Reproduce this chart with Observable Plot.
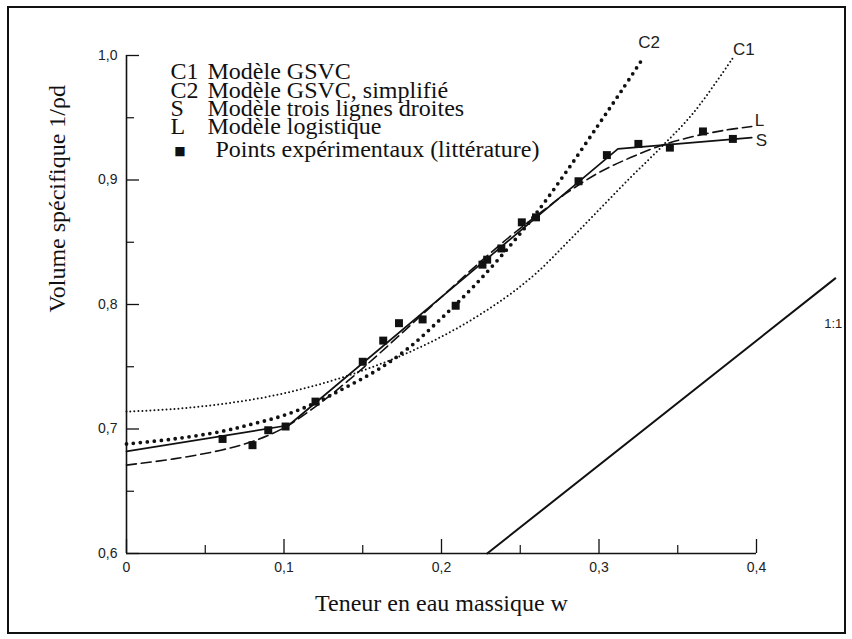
<!DOCTYPE html>
<html><head><meta charset="utf-8">
<script src="https://cdn.jsdelivr.net/npm/d3@7"></script>
<script src="https://cdn.jsdelivr.net/npm/@observablehq/plot@0.6"></script>
<style>
html,body{margin:0;padding:0;background:#fff;}
#wrap{position:relative;width:852px;height:639px;overflow:hidden;}
#border{position:absolute;left:7px;top:6px;width:839px;height:628px;border:2px solid #111;box-sizing:border-box;}
#chart{position:absolute;left:0;top:0;}
</style></head><body>
<div id="wrap"><div id="border"></div><div id="chart"></div></div>
<script>
// ---- tick definitions ----
const xTicks = [0, 0.1, 0.2, 0.3, 0.4];
const xTickLabels = ["0", "0,1", "0,2", "0,3", "0,4"];
const xMinor = [0.05, 0.15, 0.25, 0.35];
const yTicks = [0.6, 0.7, 0.8, 0.9, 1.0];
const yTickLabels = ["0,6", "0,7", "0,8", "0,9", "1,0"];
const yMinor = [0.65, 0.75, 0.85, 0.95];

// ---- experimental points (littérature) ----
const expW = [0.061, 0.080, 0.090, 0.101, 0.120, 0.150, 0.163, 0.173, 0.188, 0.209, 0.226, 0.229, 0.238, 0.251, 0.260, 0.287, 0.305, 0.325, 0.345, 0.366, 0.385];
const expV = [0.692, 0.687, 0.699, 0.702, 0.722, 0.754, 0.771, 0.785, 0.788, 0.799, 0.832, 0.836, 0.845, 0.866, 0.870, 0.899, 0.920, 0.929, 0.926, 0.939, 0.933];

// ---- S : three straight lines ----
const sW = [0, 0.103, 0.312, 0.397];
const sV = [0.682, 0.703, 0.925, 0.934];

// ---- L : logistic model ----
const lW = [0, 0.03, 0.06, 0.08, 0.10, 0.12, 0.14, 0.16, 0.18, 0.20, 0.22, 0.24, 0.26, 0.28, 0.30, 0.32, 0.34, 0.36, 0.38, 0.397];
const lV = [0.671, 0.676, 0.683, 0.690, 0.701, 0.718, 0.738, 0.760, 0.783, 0.806, 0.829, 0.851, 0.871, 0.890, 0.906, 0.918, 0.928, 0.935, 0.940, 0.943];

// ---- C1 : GSVC model ----
const c1W = [0, 0.03, 0.06, 0.09, 0.12, 0.15, 0.18, 0.21, 0.24, 0.26, 0.28, 0.30, 0.32, 0.34, 0.36, 0.385];
const c1V = [0.714, 0.716, 0.720, 0.726, 0.735, 0.747, 0.762, 0.781, 0.805, 0.825, 0.850, 0.876, 0.902, 0.927, 0.954, 0.998];

// ---- C2 : GSVC simplified ----
const c2W = [0, 0.03, 0.06, 0.08, 0.10, 0.12, 0.14, 0.16, 0.18, 0.20, 0.22, 0.24, 0.26, 0.28, 0.30, 0.315, 0.328];
const c2V = [0.688, 0.692, 0.698, 0.704, 0.711, 0.721, 0.734, 0.748, 0.766, 0.789, 0.814, 0.842, 0.873, 0.908, 0.945, 0.973, 0.998];

// ---- 1:1 line ----
const oneW = [0.229, 0.450];
const oneV = [0.600, 0.821];

// ---- legend ----
const legendCodes = ["C1", "C2", "S", "L"];
const legendLabels = ["Modèle GSVC", "Modèle GSVC, simplifié", "Modèle trois lignes droites", "Modèle logistique"];
const legendPoints = "Points expérimentaux (littérature)";

const xTitle = "Teneur en eau massique w";
const yTitle = "Volume spécifique 1/ρd";

const tbl = (ws, vs) => ws.map((w, i) => ({w, v: vs[i]}));
const S = tbl(sW, sV), L = tbl(lW, lV), C1 = tbl(c1W, c1V), C2 = tbl(c2W, c2V), ONE = tbl(oneW, oneV), EXP = tbl(expW, expV);
const last = a => [a[a.length - 1]];

const serif = "Liberation Serif, Times New Roman, serif";
const sans = "Liberation Sans, Arial, sans-serif";

const chart = Plot.plot({
  width: 852, height: 639,
  marginLeft: 126, marginRight: 96, marginTop: 55, marginBottom: 86,
  x: {domain: [0, 0.4], axis: null},
  y: {domain: [0.6, 1.0], axis: null},
  style: {background: "transparent", overflow: "visible", color: "#111"},
  marks: [
    // axes lines
    Plot.ruleY([0.6], {stroke: "#111", strokeWidth: 1.6}),
    Plot.ruleX([0], {stroke: "#111", strokeWidth: 1.6}),
    // inward ticks
    Plot.tickX(xTicks, {x: d => d, insetTop: 484, stroke: "#111", strokeWidth: 1.3}),
    Plot.tickX(xMinor, {x: d => d, insetTop: 490, stroke: "#111", strokeWidth: 1.2}),
    Plot.tickY(yTicks, {y: d => d, insetRight: 617, stroke: "#111", strokeWidth: 1.3}),
    Plot.tickY(yMinor, {y: d => d, insetRight: 622, stroke: "#111", strokeWidth: 1.2}),
    // tick labels
    Plot.axisX(xTicks, {tickSize: 0, tickPadding: 9, tickFormat: d => xTickLabels[xTicks.indexOf(d)], fontSize: 14, fontFamily: sans, fill: "#222", label: null}),
    Plot.axisY(yTicks, {tickSize: 0, tickPadding: 9, tickFormat: d => yTickLabels[yTicks.indexOf(d)], fontSize: 14, fontFamily: sans, fill: "#222", label: null}),
    // axis titles
    Plot.text([xTitle], {text: d => d, frameAnchor: "bottom", dy: 57, fontSize: 24, fontFamily: serif, fill: "#111"}),
    Plot.text([yTitle], {text: d => d, frameAnchor: "left", dx: -69, dy: 8, rotate: -90, fontSize: 24, fontFamily: serif, fill: "#111"}),
    // 1:1 line
    Plot.line(ONE, {x: "w", y: "v", stroke: "#111", strokeWidth: 2}),
    // C1 fine dotted
    Plot.line(C1, {x: "w", y: "v", curve: "catmull-rom", stroke: "#111", strokeWidth: 2, strokeDasharray: "0,4", strokeLinecap: "round"}),
    // C2 heavy dotted
    Plot.line(C2, {x: "w", y: "v", curve: "catmull-rom", stroke: "#111", strokeWidth: 3.8, strokeDasharray: "0,7", strokeLinecap: "round"}),
    // L dashed
    Plot.line(L, {x: "w", y: "v", curve: "catmull-rom", stroke: "#111", strokeWidth: 1.6, strokeDasharray: "10,5"}),
    // S solid
    Plot.line(S, {x: "w", y: "v", stroke: "#111", strokeWidth: 1.7}),
    // experimental points
    Plot.dot(EXP, {x: "w", y: "v", symbol: "square", r: 4.5, fill: "#111", stroke: null}),
    // curve labels
    Plot.text(last(C2), {x: "w", y: "v", text: () => "C2", dx: 6, dy: -15, fontSize: 17, fontFamily: sans, fill: "#222"}),
    Plot.text(last(C1), {x: "w", y: "v", text: () => "C1", dx: 11, dy: -8, fontSize: 17, fontFamily: sans, fill: "#222"}),
    Plot.text(last(L), {x: "w", y: "v", text: () => "L", dx: 3, dy: -6, textAnchor: "start", fontSize: 17, fontFamily: sans, fill: "#222"}),
    Plot.text(last(S), {x: "w", y: "v", text: () => "S", dx: 4, dy: 3, textAnchor: "start", fontSize: 17, fontFamily: sans, fill: "#222"}),
    Plot.text(last(ONE), {x: "w", y: "v", text: () => "1:1", dx: -2, dy: 45, fontSize: 13, fontFamily: sans, fill: "#222"}),
    // legend
    Plot.text([legendCodes.join("\n")], {text: d => d, frameAnchor: "top-left", dx: 44, dy: 11, lineAnchor: "top", textAnchor: "start", lineHeight: 0.76, fontSize: 24, fontFamily: serif, fill: "#111"}),
    Plot.text([legendLabels.join("\n")], {text: d => d, frameAnchor: "top-left", dx: 81, dy: 11, lineAnchor: "top", textAnchor: "start", lineHeight: 0.76, fontSize: 24, fontFamily: serif, fill: "#111"}),
    Plot.text(["■"], {text: d => d, frameAnchor: "top-left", dx: 53.5, dy: 96, textAnchor: "middle", lineAnchor: "middle", fontSize: 12, fontFamily: "DejaVu Sans", fill: "#111"}),
    Plot.text([legendPoints], {text: d => d, frameAnchor: "top-left", dx: 89, dy: 84, lineAnchor: "top", textAnchor: "start", fontSize: 24, fontFamily: serif, fill: "#111"})
  ]
});
document.getElementById("chart").appendChild(chart);
</script>
</body></html>
